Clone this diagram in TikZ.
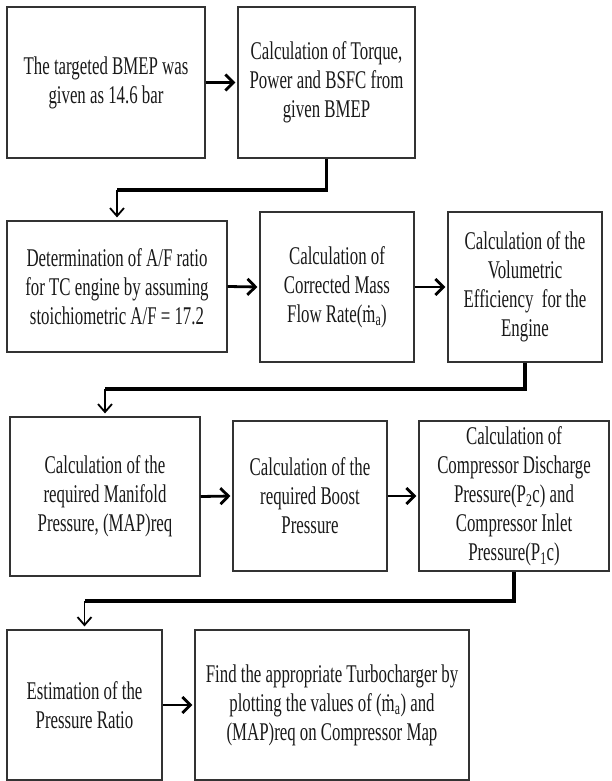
\documentclass[tikz,border=0pt]{standalone}
\usepackage{fontspec}
\setmainfont{Liberation Serif}[FakeStretch=0.66]
\usetikzlibrary{arrows.meta}
\tikzset{
	stepbox/.style={draw=black!80,line width=1.2pt,align=center,inner sep=2pt,text=black!90,font=\fontsize{25.5}{29}\selectfont},
	go/.style={line width=2.8pt,-{Straight Barb[length=8pt,width=16pt]},shorten >=2pt},
	elbow/.style={line width=3.2pt,line join=miter},
	drop/.style={line width=1.8pt,-{Straight Barb[length=8pt,width=14pt]},shorten >=3pt}
}
\begin{document}
\begin{tikzpicture}[x=1pt,y=-1pt]
	\useasboundingbox (0,0) rectangle (611,781);
	\node[stepbox,minimum width=198pt,minimum height=151pt] (bmep) at (106,82.5) {The targeted BMEP was\\given as 14.6 bar};
	\node[stepbox,minimum width=177pt,minimum height=151pt] (torque) at (326.5,82.5) {Calculation of Torque,\\Power and BSFC from\\given BMEP};
	\node[stepbox,minimum width=220pt,minimum height=131pt] (afratio) at (117,286.5) {Determination of A/F ratio\\for TC engine by assuming\\stoichiometric A/F = 17.2};
	\node[stepbox,minimum width=154pt,minimum height=150pt] (massflow) at (337,287) {Calculation of\\Corrected Mass\\Flow Rate(\.{m}\textsubscript{a})};
	\node[stepbox,minimum width=154pt,minimum height=150pt] (voleff) at (525,287) {Calculation of the\\Volumetric\\Efficiency~ for the\\Engine};
	\node[stepbox,minimum width=190pt,minimum height=159pt] (manifold) at (105,496.5) {Calculation of the\\required Manifold\\Pressure, (MAP)req};
	\node[stepbox,minimum width=154pt,minimum height=150pt] (boost) at (310,496) {Calculation of the\\required Boost\\Pressure};
	\node[stepbox,minimum width=190pt,minimum height=150pt] (discharge) at (514,496) {Calculation of\\Compressor Discharge\\Pressure(P\textsubscript{2}c) and\\Compressor Inlet\\Pressure(P\textsubscript{1}c)};
	\node[stepbox,minimum width=155pt,minimum height=150pt] (ratio) at (84.5,705) {Estimation of the\\Pressure Ratio};
	\node[stepbox,minimum width=274pt,minimum height=150pt] (turbo) at (332,705) {Find the appropriate Turbocharger by\\plotting the values of (\.{m}\textsubscript{a}) and\\(MAP)req on Compressor Map};
	\draw[go] (bmep) -- (torque);
	\draw[go] (afratio.east) -- (massflow.west);
	\draw[go] (massflow) -- (voleff);
	\draw[go] (manifold.east) -- (boost.west);
	\draw[go] (boost) -- (discharge);
	\draw[go] (ratio) -- (turbo);
	\coordinate (k1) at (afratio.north |- 0,190);
	\coordinate (k2) at (manifold.north |- 0,389);
	\coordinate (k3) at (ratio.north |- 0,601);
	\draw[elbow] (torque.south) |- (k1);
	\draw[drop] (k1) -- (afratio.north);
	\draw[elbow] (voleff.south) |- (k2);
	\draw[drop] (k2) -- (manifold.north);
	\draw[elbow] (discharge.south) |- (k3);
	\draw[drop] (k3) -- (ratio.north);
\end{tikzpicture}
\end{document}
